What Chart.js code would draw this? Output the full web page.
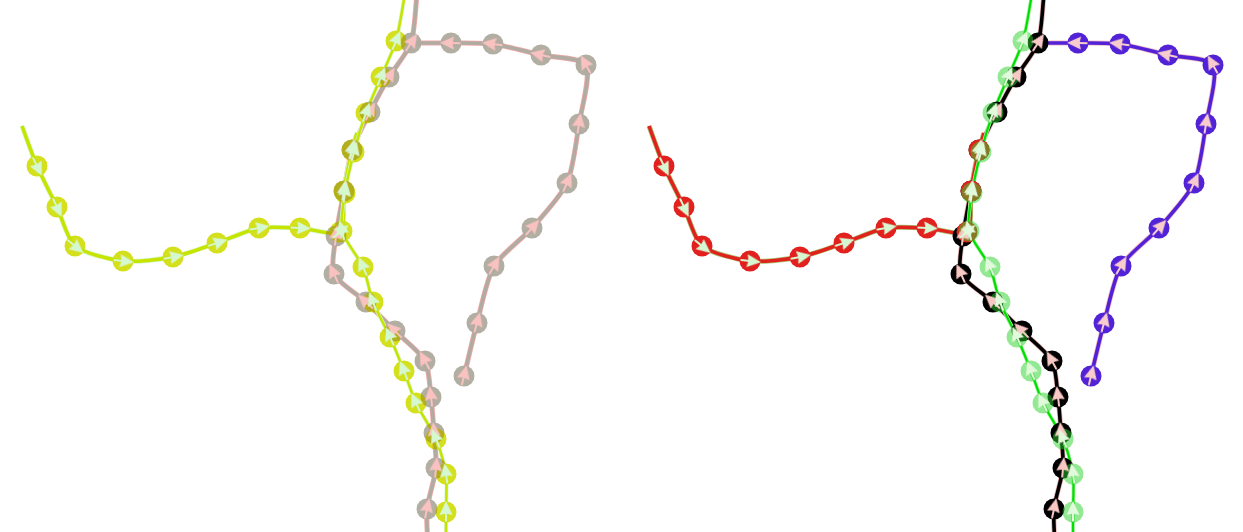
<!DOCTYPE html>
<html>
<head>
<meta charset="utf-8">
<script src="https://cdn.jsdelivr.net/npm/chart.js@4.4.0/dist/chart.umd.min.js"></script>
<style>
  html, body { margin: 0; padding: 0; background: #fff; overflow: hidden; }
  .panel { position: absolute; top: 0; width: 616px; height: 532px; }
  #left { left: 0; }
  #right { left: 627px; }
</style>
</head>
<body>
<div class="panel" id="left"><canvas id="chartLeft"></canvas></div>
<div class="panel" id="right"><canvas id="chartRight"></canvas></div>
<script>
// track A: comes in from the left, turns up at the junction
var aX = [3.7, 5.7, 7.5, 12.3, 17.3, 21.7, 25.9, 30.0, 34.0, 34.4, 35.2];
var aY = [36.6, 32.5, 28.6, 27.1, 27.5, 28.9, 30.4, 30.4, 30.0, 34.1, 38.2];
var aStart = [2.2, 40.6];
var aEnd = [35.7, 39.9];

// track B: comes up from the bottom, joins A, leaves at the top
var bX = [44.6, 44.6, 43.6, 41.6, 40.4, 39.0, 37.3, 36.3, 34.2, 34.5, 35.4, 36.6, 38.1, 39.6];
var bY = [2.0, 5.8, 9.3, 12.9, 16.1, 19.5, 23.0, 26.5, 30.1, 33.9, 38.0, 41.9, 45.5, 49.1];
var bStart = [44.6, -1.5];
var bEnd = [40.5, 53.8];

// track C: up from the bottom, along the junction, out at the top
var cX = [42.7, 43.6, 43.4, 43.1, 42.5, 39.5, 36.6, 33.4, 33.6, 34.4, 35.2, 37.0, 38.9, 41.1];
var cY = [2.3, 6.4, 9.9, 13.5, 17.1, 20.1, 23.0, 25.8, 29.6, 34.1, 38.2, 42.0, 45.5, 48.9];
var cStart = [42.8, -1.5];
var cEnd = [41.7, 53.8];

// track D: the loop on the right, ends where it meets C
var dX = [46.4, 47.7, 49.4, 53.2, 56.7, 57.9, 58.6, 54.1, 49.3, 45.1];
var dY = [15.6, 20.9, 26.6, 30.4, 34.9, 40.8, 46.7, 47.7, 48.8, 48.9];
var dStart = null;
var dEnd = [41.1, 48.9];

var xRange = [0, 61.6];
var yRange = [0, 53.2];

// left panel: coloured by group, right panel: coloured by track
var lookLeft = [
  { line: '#b0aca2', halo: '#f4a8a8', marker: '#b2aea2', arrow: '#f9c2c0', width: 3.6, blend: 'darken' },
  { line: '#b0aca2', halo: '#f4a8a8', marker: '#b2aea2', arrow: '#f9c2c0', width: 3.6, blend: 'darken' },
  { line: '#c6e400', halo: '#d6f8c8', marker: '#d4e01c', arrow: '#d6f8d0', width: 3.5, blend: 'darken' },
  { line: '#c6e400', halo: '#d6f8c8', marker: '#d4e01c', arrow: '#d6f8d0', width: 2.5, blend: 'darken' }
];
var lookRight = [
  { line: '#5222d6', halo: '#f2b8c4', marker: '#5222d6', arrow: '#f8cccc', width: 3.6 },
  { line: '#000000', halo: '#e8b0b0', marker: '#000000', arrow: '#f8c8c4', width: 3.6 },
  { line: '#e0221c', halo: '#a8c070', marker: '#e2201e', arrow: '#d6f8d0', width: 3.5 },
  { line: '#00e000', halo: '#a8f0a0', marker: 'rgba(40,210,40,0.5)', arrow: '#e2fadc', width: 2.2 }
];

function toPoints(xs, ys) {
  return xs.map(function(x, i) { return { x: x, y: ys[i] }; });
}

function arrowImage(color) {
  var c = document.createElement('canvas');
  c.width = 22;
  c.height = 22;
  var g = c.getContext('2d');
  g.fillStyle = color;
  g.strokeStyle = color;
  g.lineWidth = 2;
  g.beginPath();
  g.moveTo(11, 12);
  g.lineTo(11, 20.5);
  g.stroke();
  g.beginPath();
  g.moveTo(11, 0);
  g.lineTo(17.5, 14);
  g.lineTo(11, 12.5);
  g.lineTo(4.5, 14);
  g.closePath();
  g.fill();
  return c;
}

// arrow points along the track, from the previous marker to the next one
function heading(ctx) {
  if (ctx.dataIndex === undefined) return 0;
  var data = ctx.dataset.data;
  var i = ctx.dataIndex;
  var p = data[Math.max(i - 1, 0)];
  var n = data[Math.min(i + 1, data.length - 1)];
  var sx = ctx.chart.scales.x, sy = ctx.chart.scales.y;
  var dx = sx.getPixelForValue(n.x) - sx.getPixelForValue(p.x);
  var dy = sy.getPixelForValue(n.y) - sy.getPixelForValue(p.y);
  return Math.atan2(dx, -dy) * 180 / Math.PI;
}

function buildDatasets(look) {
  var tracks = [
    [dX, dY, dStart, dEnd],
    [cX, cY, cStart, cEnd],
    [aX, aY, aStart, aEnd],
    [bX, bY, bStart, bEnd]
  ];
  var lines = [], marks = [], arrows = [];
  tracks.forEach(function(t, i) {
    var s = look[i];
    var pts = toPoints(t[0], t[1]);
    var path = pts.slice();
    if (t[2]) path.unshift({ x: t[2][0], y: t[2][1] });
    if (t[3]) path.push({ x: t[3][0], y: t[3][1] });
    lines.push({ data: path, showLine: true, borderColor: s.halo, borderWidth: s.width + 1.5,
      pointRadius: 0, tension: 0.25 });
    lines.push({ data: path, showLine: true, borderColor: s.line, borderWidth: s.width,
      pointRadius: 0, tension: 0.25 });
    marks.push({ data: pts, showLine: false, pointRadius: 10.5, pointBorderWidth: 0,
      pointBackgroundColor: s.marker, blend: s.blend });
    arrows.push({ data: pts, showLine: false, pointRadius: 10, pointBorderWidth: 0,
      pointStyle: arrowImage(s.arrow), pointRotation: heading });
  });
  var all = lines.concat(marks, arrows);
  // first in the list goes underneath
  all.forEach(function(d, k) { d.order = all.length - k; });
  return all;
}

var blendPlugin = {
  id: 'blend',
  beforeDatasetDraw: function(chart, args) {
    var mode = chart.data.datasets[args.index].blend;
    chart.ctx.save();
    if (mode) chart.ctx.globalCompositeOperation = mode;
  },
  afterDatasetDraw: function(chart) {
    chart.ctx.restore();
  }
};

function makeChart(id, look) {
  return new Chart(document.getElementById(id), {
    type: 'scatter',
    data: { datasets: buildDatasets(look) },
    plugins: [blendPlugin],
    options: {
      responsive: true,
      maintainAspectRatio: false,
      animation: false,
      events: [],
      layout: { padding: 0, autoPadding: false },
      plugins: { legend: { display: false }, tooltip: { enabled: false } },
      scales: {
        x: { type: 'linear', min: xRange[0], max: xRange[1], display: false },
        y: { type: 'linear', min: yRange[0], max: yRange[1], display: false }
      }
    }
  });
}

makeChart('chartLeft', lookLeft);
makeChart('chartRight', lookRight);
</script>
</body>
</html>
